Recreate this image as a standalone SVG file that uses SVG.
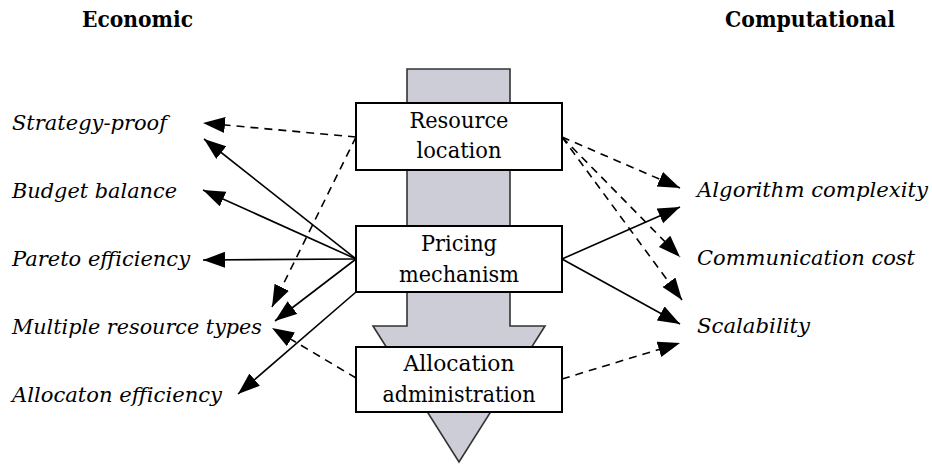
<svg xmlns="http://www.w3.org/2000/svg" width="932" height="464" viewBox="0 0 932 464">
<style>
text{font-family:'DejaVu Serif',serif;fill:#000}
.hd{font-weight:bold;font-size:23px}
.lb{font-style:italic;font-size:21px}
.bx{fill:#fff;stroke:#000;stroke-width:2}
.bt{font-size:21.5px;text-anchor:middle}
.s{stroke:#000;stroke-width:1.6;fill:none;marker-end:url(#ah)}
.d{stroke:#000;stroke-width:1.6;fill:none;stroke-dasharray:8 6;marker-end:url(#ah)}
</style>
<defs>
<marker id="ah" markerUnits="userSpaceOnUse" markerWidth="24" markerHeight="18" refX="22" refY="8" orient="auto">
<path d="M0,0 L22,8 L0,16 z" fill="#000"/>
</marker>
</defs>
<rect width="932" height="464" fill="#fff"/>
<g id="flow-arrow">
<polygon points="407,69 510,69 510,326 545,326 459,462 373,326 407,326" fill="#cdcdd8" stroke="#333" stroke-width="1.6"/>
</g>
<g id="headings">
<text class="hd" x="82" y="27" textLength="111" lengthAdjust="spacingAndGlyphs">Economic</text>
<text class="hd" x="725" y="27" textLength="170" lengthAdjust="spacingAndGlyphs">Computational</text>
</g>
<g id="connectors">
<line class="d" x1="356" y1="137" x2="203" y2="123"/>
<line class="d" x1="356" y1="137" x2="272" y2="307"/>
<line class="s" x1="356" y1="259" x2="204" y2="139"/>
<line class="s" x1="356" y1="259" x2="203" y2="190"/>
<line class="s" x1="356" y1="259" x2="203" y2="260"/>
<line class="s" x1="356" y1="259" x2="275" y2="321"/>
<line class="s" x1="356" y1="292" x2="238" y2="394"/>
<line class="d" x1="356" y1="378" x2="272" y2="328"/>
<line class="d" x1="562" y1="137" x2="680" y2="188"/>
<line class="d" x1="562" y1="137" x2="680" y2="257"/>
<line class="d" x1="562" y1="137" x2="682" y2="300"/>
<line class="s" x1="562" y1="259" x2="680" y2="207"/>
<line class="s" x1="562" y1="259" x2="680" y2="324"/>
<line class="d" x1="562" y1="379" x2="680" y2="343"/>
</g>
<g id="resource-location">
<rect class="bx" x="356" y="103" width="206" height="67"/>
<text class="bt" x="459" y="128" textLength="99" lengthAdjust="spacingAndGlyphs">Resource</text>
<text class="bt" x="459" y="158" textLength="85" lengthAdjust="spacingAndGlyphs">location</text>
</g>
<g id="pricing-mechanism">
<rect class="bx" x="356" y="226" width="206" height="66"/>
<text class="bt" x="459" y="251" textLength="76" lengthAdjust="spacingAndGlyphs">Pricing</text>
<text class="bt" x="459" y="282" textLength="120" lengthAdjust="spacingAndGlyphs">mechanism</text>
</g>
<g id="allocation-administration">
<rect class="bx" x="356" y="347" width="206" height="65"/>
<text class="bt" x="459" y="371" textLength="111" lengthAdjust="spacingAndGlyphs">Allocation</text>
<text class="bt" x="459" y="402" textLength="153" lengthAdjust="spacingAndGlyphs">administration</text>
</g>
<g id="economic-labels">
<text class="lb" x="12" y="130" textLength="155" lengthAdjust="spacingAndGlyphs">Strategy-proof</text>
<text class="lb" x="12" y="198" textLength="165" lengthAdjust="spacingAndGlyphs">Budget balance</text>
<text class="lb" x="12" y="266" textLength="178" lengthAdjust="spacingAndGlyphs">Pareto efficiency</text>
<text class="lb" x="12" y="334" textLength="250" lengthAdjust="spacingAndGlyphs">Multiple resource types</text>
<text class="lb" x="12" y="402" textLength="210" lengthAdjust="spacingAndGlyphs">Allocaton efficiency</text>
</g>
<g id="computational-labels">
<text class="lb" x="697" y="197" textLength="231" lengthAdjust="spacingAndGlyphs">Algorithm complexity</text>
<text class="lb" x="697" y="265" textLength="218" lengthAdjust="spacingAndGlyphs">Communication cost</text>
<text class="lb" x="697" y="333" textLength="113" lengthAdjust="spacingAndGlyphs">Scalability</text>
</g>
</svg>
